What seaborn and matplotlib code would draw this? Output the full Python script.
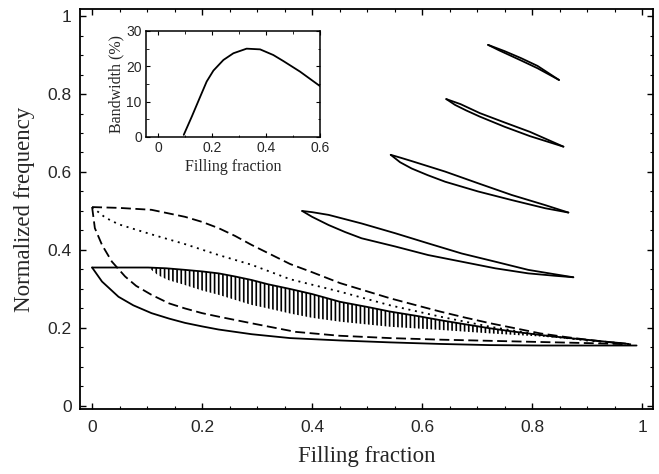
import numpy as np
import pandas as pd
import matplotlib.pyplot as plt
import seaborn as sns

# lowest band edge (solid)
low_x = [0.0, 0.018, 0.048, 0.075, 0.108, 0.14, 0.169, 0.2, 0.23, 0.29, 0.36, 0.45, 0.542,
         0.633, 0.724, 0.815, 0.905, 0.99]
low_y = [0.355, 0.319, 0.28, 0.258, 0.238, 0.224, 0.213, 0.204, 0.196, 0.184, 0.174, 0.168, 0.163,
         0.159, 0.156, 0.155, 0.155, 0.155]

# gap top edge (solid, hatched gap below it)
top_x = [0.0, 0.102, 0.135, 0.169, 0.2, 0.23, 0.26, 0.29, 0.32, 0.36, 0.4, 0.451, 0.5, 0.542,
         0.59, 0.633, 0.68, 0.724, 0.77, 0.815, 0.86, 0.905, 0.94, 0.97]
top_y = [0.355, 0.355, 0.353, 0.349, 0.345, 0.34, 0.332, 0.323, 0.312, 0.3, 0.287, 0.267, 0.254, 0.242,
         0.231, 0.22, 0.209, 0.199, 0.19, 0.182, 0.175, 0.169, 0.164, 0.16]

# gap bottom edge (end of the hatching)
hb_x = [0.105, 0.12, 0.138, 0.169, 0.2, 0.23, 0.26, 0.29, 0.32, 0.36, 0.4, 0.451, 0.5, 0.542,
        0.633, 0.724, 0.815, 0.905, 0.97]
hb_y = [0.352, 0.335, 0.323, 0.31, 0.296, 0.285, 0.272, 0.259, 0.25, 0.237, 0.226, 0.216, 0.209, 0.203,
        0.195, 0.186, 0.178, 0.167, 0.16]

# upper dashed curve
ud_x = [0.0, 0.048, 0.108, 0.169, 0.2, 0.23, 0.26, 0.29, 0.32, 0.36, 0.4, 0.451, 0.5, 0.542,
        0.59, 0.633, 0.68, 0.724, 0.77, 0.815, 0.86, 0.905, 0.95, 0.984]
ud_y = [0.51, 0.508, 0.503, 0.485, 0.472, 0.456, 0.436, 0.413, 0.392, 0.364, 0.343, 0.315, 0.294, 0.276,
        0.258, 0.242, 0.226, 0.212, 0.199, 0.186, 0.177, 0.169, 0.162, 0.158]

# lower dashed curve
ld_x = [0.0, 0.005, 0.018, 0.036, 0.06, 0.08, 0.108, 0.14, 0.169, 0.2, 0.23, 0.29, 0.37, 0.45,
        0.542, 0.633, 0.724, 0.815, 0.905, 0.98]
ld_y = [0.51, 0.456, 0.413, 0.37, 0.332, 0.308, 0.285, 0.263, 0.25, 0.238, 0.229, 0.212, 0.19, 0.18,
        0.174, 0.17, 0.167, 0.164, 0.161, 0.158]

# dotted curve
dt_x = [0.0, 0.024, 0.048, 0.08, 0.108, 0.169, 0.23, 0.29, 0.36, 0.451, 0.542, 0.633, 0.724,
        0.815, 0.905, 0.97]
dt_y = [0.51, 0.483, 0.466, 0.452, 0.44, 0.415, 0.387, 0.362, 0.325, 0.293, 0.258, 0.229, 0.203,
        0.182, 0.167, 0.16]

# higher-order gaps (lens shapes): upper and lower edges
lens1_ux = [0.382, 0.4, 0.43, 0.49, 0.551, 0.611, 0.672, 0.733, 0.793, 0.84, 0.875]
lens1_uy = [0.5, 0.497, 0.49, 0.468, 0.443, 0.417, 0.391, 0.37, 0.349, 0.338, 0.33]
lens1_lx = [0.382, 0.4, 0.43, 0.46, 0.49, 0.551, 0.611, 0.672, 0.733, 0.793, 0.84, 0.875]
lens1_ly = [0.5, 0.485, 0.464, 0.446, 0.43, 0.409, 0.387, 0.37, 0.353, 0.34, 0.334, 0.33]

lens2_ux = [0.543, 0.56, 0.581, 0.642, 0.702, 0.763, 0.824, 0.866]
lens2_uy = [0.644, 0.637, 0.628, 0.601, 0.571, 0.541, 0.515, 0.496]
lens2_lx = [0.543, 0.56, 0.581, 0.61, 0.642, 0.702, 0.763, 0.824, 0.866]
lens2_ly = [0.644, 0.625, 0.609, 0.592, 0.575, 0.55, 0.528, 0.507, 0.496]

lens3_ux = [0.644, 0.67, 0.705, 0.75, 0.796, 0.857]
lens3_uy = [0.787, 0.774, 0.751, 0.727, 0.703, 0.665]
lens3_lx = [0.644, 0.66, 0.68, 0.705, 0.75, 0.796, 0.857]
lens3_ly = [0.787, 0.772, 0.758, 0.742, 0.716, 0.692, 0.665]

lens4_ux = [0.72, 0.75, 0.78, 0.81, 0.849]
lens4_uy = [0.926, 0.91, 0.892, 0.872, 0.836]
lens4_lx = [0.72, 0.74, 0.78, 0.81, 0.849]
lens4_ly = [0.926, 0.912, 0.886, 0.866, 0.836]

# inset: gap bandwidth vs filling fraction
bw_x = [0.095, 0.125, 0.156, 0.18, 0.205, 0.242, 0.279, 0.328, 0.378, 0.427, 0.464, 0.526, 0.6]
bw_y = [0.6, 5.8, 11.4, 15.7, 18.8, 21.8, 23.7, 25.0, 24.8, 23.2, 21.5, 18.5, 14.4]

sns.set_style("ticks")
plt.rcParams['xtick.direction'] = 'in'
plt.rcParams['ytick.direction'] = 'in'
plt.rcParams['hatch.linewidth'] = 1.2
plt.rcParams['font.family'] = ['Liberation Sans', 'DejaVu Sans']

fig = plt.figure(figsize=(6.59, 4.74), dpi=100)
ax = fig.add_axes([0.1214, 0.137, 0.8696, 0.844])

lw = 1.3
def line(x, y, dashes=None, a=ax):
    sns.lineplot(x=x, y=y, sort=False, estimator=None, color='black', linewidth=lw, ax=a)
    if dashes is not None:
        a.lines[-1].set_dashes(dashes)

line(low_x, low_y)
line(top_x, top_y)
line(ud_x, ud_y, dashes=(5.5, 2.5))
line(ld_x, ld_y, dashes=(5.5, 2.5))
line(dt_x, dt_y, dashes=(1.1, 2.6))
for ux, uy, lx, ly in [(lens1_ux, lens1_uy, lens1_lx, lens1_ly),
                       (lens2_ux, lens2_uy, lens2_lx, lens2_ly),
                       (lens3_ux, lens3_uy, lens3_lx, lens3_ly),
                       (lens4_ux, lens4_uy, lens4_lx, lens4_ly)]:
    line(ux, uy)
    line(lx, ly)

# hatched gap region
gx = np.linspace(hb_x[0], hb_x[-1], 300)
g_top = np.interp(gx, top_x, top_y)
g_bot = np.interp(gx, hb_x, hb_y)
ax.fill_between(gx, g_bot, g_top, facecolor='none', edgecolor='black', hatch='||||', linewidth=0)

ax.set_xlim(-0.022, 1.02)
ax.set_ylim(-0.008, 1.018)
ax.set_xticks([0, 0.2, 0.4, 0.6, 0.8, 1])
ax.set_xticklabels(['0', '0.2', '0.4', '0.6', '0.8', '1'])
ax.set_yticks([0, 0.2, 0.4, 0.6, 0.8, 1])
ax.set_yticklabels(['0', '0.2', '0.4', '0.6', '0.8', '1'])
ax.set_xticks(np.arange(0, 1.01, 0.05), minor=True)
ax.set_yticks(np.arange(0, 1.01, 0.05), minor=True)
ax.tick_params(which='both', top=True, right=True, color='black', labelsize=12.5)
ax.tick_params(axis='x', which='major', pad=8)
ax.tick_params(axis='y', which='major', pad=6)
ax.tick_params(which='major', length=4.5, width=1)
ax.tick_params(which='minor', length=2.5, width=0.8)
for s in ax.spines.values():
    s.set_linewidth(1.3)
    s.set_color('black')
ax.set_xlabel('Filling fraction', family='Liberation Serif', fontsize=16.5, labelpad=8)
ax.set_ylabel('Normalized frequency', family='Liberation Serif', fontsize=16.5, labelpad=9)

# inset
ins = fig.add_axes([0.2215, 0.711, 0.2641, 0.2236])
line(bw_x, bw_y, a=ins)
ins.set_xlim(-0.045, 0.6)
ins.set_ylim(0, 30)
ins.set_xticks([0, 0.2, 0.4, 0.6])
ins.set_xticklabels(['0', '0.2', '0.4', '0.6'])
ins.set_yticks([0, 10, 20, 30])
ins.set_xticks(np.arange(0, 0.61, 0.1), minor=True)
ins.set_yticks([5, 15, 25], minor=True)
ins.tick_params(which='both', top=True, right=True, color='black', labelsize=10, pad=3)
ins.tick_params(which='major', length=3, width=0.8)
ins.tick_params(which='minor', length=1.8, width=0.6)
for s in ins.spines.values():
    s.set_linewidth(1.1)
    s.set_color('black')
ins.set_xlabel('Filling fraction', family='Liberation Serif', fontsize=11.5, labelpad=3)
ins.set_ylabel('Bandwidth (%)', family='Liberation Serif', fontsize=11.5, labelpad=1)

fig.savefig('out.png', dpi=100, facecolor='white')
